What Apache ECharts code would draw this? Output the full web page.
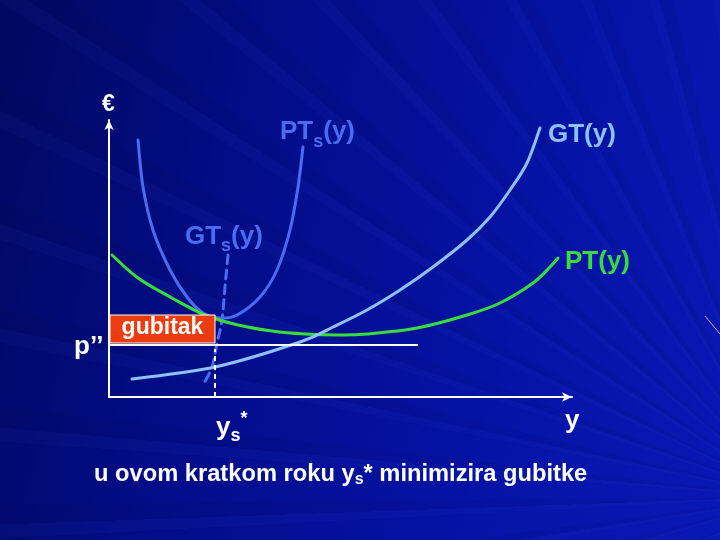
<!DOCTYPE html>
<html>
<head>
<meta charset="utf-8">
<script src="https://cdn.jsdelivr.net/npm/echarts@6/dist/echarts.min.js"></script>
<style>
html,body{margin:0;padding:0;}
#bg{position:absolute;left:0;top:0;width:720px;height:540px;
background:
 repeating-conic-gradient(from 250deg at 110% 92%, rgba(90,110,255,0) 0deg 3deg, rgba(90,110,255,0.04) 3deg 4deg, rgba(0,0,40,0.06) 4deg 5.5deg, rgba(90,110,255,0) 5.5deg 7deg),
 linear-gradient(105deg, #00085e 0%, #030d8a 35%, #0513a6 70%, #0919b4 100%);}
#chart{position:absolute;left:0;top:0;width:720px;height:540px;}
</style>
</head>
<body>
<div id="bg"></div>
<div id="chart"></div>
<script>
// Chart units: x 0..463, y 0..277
const xMax = 463, yMax = 277;
const ptsShort = [[29,257],[34,210],[44,167],[61,127],[78,100],[94,84],[111,79],[128,82],[151,100],[168,127],[181,167],[189,210],[194,250]];
const gtsShort = [[119,142],[116,110],[113,77],[108,54],[103,30],[94,12]];
const ptLong = [[3,142],[29,119],[63,99],[96,82],[129,72],[163,66],[196,63],[230,62],[258,63],[308,69],[358,82],[391,94],[424,114],[441,130],[449,139]];
const gtLong = [[23,18],[106,30],[191,55],[224,70],[258,87],[291,107],[324,130],[358,157],[381,180],[401,207],[418,234],[431,269]];
const priceLine = [[0,52],[309,52]];
const ysStarLine = [[106,0],[106,48]];
const lossBox = [[1,54,106,82]];

const FONT = '"Liberation Sans", Arial, sans-serif';
const cv = document.createElement('canvas').getContext('2d');
function w(t, size){ cv.font = 'bold ' + size + 'px ' + FONT; return cv.measureText(t).width; }
// parts: [text, size, dy]
function label(x, y, parts, color){
  const els = [];
  let cx = x;
  parts.forEach(p => {
    els.push({type:'text', z:50, style:{text:p[0], x:cx, y:y + (p[2]||0), fill:color,
      font:'bold ' + p[1] + 'px ' + FONT, align:'left', verticalAlign:'middle'}});
    cx += w(p[0], p[1]);
  });
  return els;
}

const BLUE = '#4a6cf0', LBLUE = '#8cc2f8', GREEN = '#38dc3c', WHITE = '#ffffff';
let graphics = [];
graphics = graphics.concat(
  label(102, 105, [['€',23,0]], WHITE),
  label(280, 132, [['PT',26,0],['s',18,10],['(y)',26,0]], BLUE),
  label(548, 135, [['GT(y)',26,0]], LBLUE),
  label(185, 237, [['GT',26,0],['s',18,9],['(y)',26,0]], BLUE),
  label(565, 262, [['PT(y)',26,0]], GREEN),
  label(74, 347, [['p’’',26,0]], WHITE),
  label(216, 428, [['y',26,0],['s',18,8],['*',18,-9]], WHITE),
  label(565, 421, [['y',26,0]], WHITE),
  label(94, 474, [['u ovom kratkom roku y',23.7,0],['s',16,6],['* minimizira gubitke',23.7,0]], WHITE)
);
graphics.push({type:'line', z:1, shape:{x1:705,y1:316,x2:720,y2:334}, style:{stroke:'#d8a0ff', lineWidth:1}});

// Smooth curve through the data points (Catmull-Rom), positioned by the chart's own coordinate system
function curveSeries(points, color, dash){
  return {type:'custom', z:3, data:points,
    renderItem:function(params, api){
      if (params.dataIndex !== 0) return null;
      const p = points.map(d => api.coord(d));
      let d = 'M' + p[0][0] + ' ' + p[0][1];
      for (let i = 0; i < p.length - 1; i++){
        const p0 = p[i-1] || p[i], p1 = p[i], p2 = p[i+1], p3 = p[i+2] || p[i+1];
        const c1 = [p1[0] + (p2[0]-p0[0])/6, p1[1] + (p2[1]-p0[1])/6];
        const c2 = [p2[0] - (p3[0]-p1[0])/6, p2[1] - (p3[1]-p1[1])/6];
        d += ' C' + c1[0] + ' ' + c1[1] + ' ' + c2[0] + ' ' + c2[1] + ' ' + p2[0] + ' ' + p2[1];
      }
      return {type:'path', shape:{pathData:d},
        style:{fill:'none', stroke:color, lineWidth:3, lineDash:dash || null, lineCap:'round'}};
    }};
}

const chart = echarts.init(document.getElementById('chart'), null, {renderer:'canvas'});
chart.setOption({
  backgroundColor:'transparent',
  animation:false,
  grid:{left:109, top:120, width:463, height:277, containLabel:false},
  xAxis:{type:'value', min:0, max:xMax, splitLine:{show:false}, axisTick:{show:false}, axisLabel:{show:false},
    axisLine:{lineStyle:{color:WHITE, width:2}, symbol:['none','arrow'], symbolSize:[7,10]}},
  yAxis:{type:'value', min:0, max:yMax, splitLine:{show:false}, axisTick:{show:false}, axisLabel:{show:false},
    axisLine:{lineStyle:{color:WHITE, width:2}, symbol:['none','arrow'], symbolSize:[7,10]}},
  graphic: graphics,
  series:[
    curveSeries(ptsShort, BLUE),
    curveSeries(gtsShort, BLUE, [9,6]),
    curveSeries(ptLong, GREEN),
    curveSeries(gtLong, LBLUE),
    {type:'line', data:priceLine, symbol:'none', lineStyle:{color:WHITE, width:2}, z:4},
    {type:'line', data:ysStarLine, symbol:'none', lineStyle:{color:WHITE, width:2, type:[5,4]}, z:4},
    {type:'custom', z:10, data:lossBox,
      renderItem:function(params, api){
        const p1 = api.coord([api.value(0), api.value(3)]);
        const p2 = api.coord([api.value(2), api.value(1)]);
        return {type:'group', children:[
          {type:'rect', shape:{x:p1[0], y:p1[1], width:p2[0]-p1[0], height:p2[1]-p1[1]},
            style:{fill:'#ec3c10', stroke:'#ffffff', lineWidth:1}},
          {type:'text', style:{text:'gubitak', x:(p1[0]+p2[0])/2, y:(p1[1]+p2[1])/2 - 1,
            fill:'#ffffff', font:'bold 23px ' + FONT, align:'center', verticalAlign:'middle'}}
        ]};
      }}
  ]
});
</script>
</body>
</html>
